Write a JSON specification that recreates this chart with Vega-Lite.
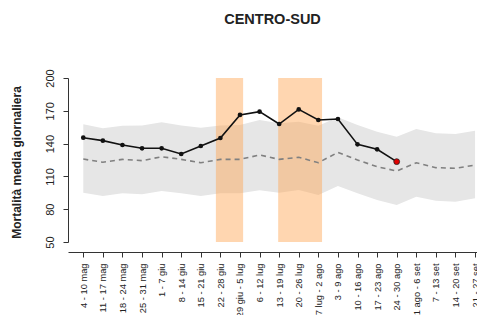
{
  "$schema": "https://vega.github.io/schema/vega-lite/v6.json",
  "autosize": {"type": "none"},
  "width": 409,
  "height": 164,
  "padding": {"left": 68, "top": 78, "right": 0, "bottom": 73},
  "background": "white",
  "config": {
    "view": {"stroke": null},
    "font": "Liberation Sans",
    "axis": {"grid": false, "labelOverlap": false, "domainColor": "#333", "tickColor": "#333", "labelColor": "#222", "labelFont": "Liberation Sans", "titleFont": "Liberation Sans"}
  },
  "title": {"text": "CENTRO-SUD", "fontSize": 14.5, "fontWeight": "bold", "color": "#222", "offset": 41, "anchor": "middle", "frame": "group"},
  "datasets": {
    "weeks": [
      {"i": 0, "week": "4 - 10 mag", "obs": 145.4, "exp": 125.9, "lo": 95.1, "hi": 157.6},
      {"i": 1, "week": "11 - 17 mag", "obs": 142.7, "exp": 122.9, "lo": 92.1, "hi": 154.0},
      {"i": 2, "week": "18 - 24 mag", "obs": 138.7, "exp": 125.6, "lo": 94.5, "hi": 156.4},
      {"i": 3, "week": "25 - 31 mag", "obs": 135.7, "exp": 124.4, "lo": 93.6, "hi": 156.5},
      {"i": 4, "week": "1 - 7 giu", "obs": 135.7, "exp": 128.0, "lo": 96.6, "hi": 159.5},
      {"i": 5, "week": "8 - 14 giu", "obs": 130.5, "exp": 125.6, "lo": 94.5, "hi": 156.6},
      {"i": 6, "week": "15 - 21 giu", "obs": 137.8, "exp": 122.5, "lo": 92.1, "hi": 154.6},
      {"i": 7, "week": "22 - 28 giu", "obs": 145.1, "exp": 125.6, "lo": 94.5, "hi": 156.6},
      {"i": 8, "week": "29 giu - 5 lug", "obs": 166.2, "exp": 125.6, "lo": 94.5, "hi": 157.0},
      {"i": 9, "week": "6 - 12 lug", "obs": 169.2, "exp": 129.6, "lo": 97.3, "hi": 161.6},
      {"i": 10, "week": "13 - 19 lug", "obs": 157.9, "exp": 125.6, "lo": 95.1, "hi": 158.5},
      {"i": 11, "week": "20 - 26 lug", "obs": 171.3, "exp": 127.5, "lo": 97.6, "hi": 160.0},
      {"i": 12, "week": "27 lug - 2 ago", "obs": 161.6, "exp": 122.5, "lo": 93.0, "hi": 156.4},
      {"i": 13, "week": "3 - 9 ago", "obs": 162.5, "exp": 132.0, "lo": 101.2, "hi": 164.0},
      {"i": 14, "week": "10 - 16 ago", "obs": 139.3, "exp": 125.0, "lo": 94.5, "hi": 157.0},
      {"i": 15, "week": "17 - 23 ago", "obs": 134.8, "exp": 118.9, "lo": 88.4, "hi": 150.9},
      {"i": 16, "week": "24 - 30 ago", "obs": 123.5, "exp": 114.9, "lo": 83.8, "hi": 146.3},
      {"i": 17, "week": "31 ago - 6 set", "obs": null, "exp": 122.5, "lo": 91.4, "hi": 153.4},
      {"i": 18, "week": "7 - 13 set", "obs": null, "exp": 118.0, "lo": 87.8, "hi": 149.4},
      {"i": 19, "week": "14 - 20 set", "obs": null, "exp": 117.4, "lo": 86.9, "hi": 148.8},
      {"i": 20, "week": "21 - 27 set", "obs": null, "exp": 120.4, "lo": 90.0, "hi": 151.8}
    ],
    "waves": [
      {"start": 6.77, "end": 8.16},
      {"start": 9.95, "end": 12.19}
    ]
  },
  "layer": [
    {
      "data": {"name": "weeks"},
      "mark": {"type": "area", "color": "#e6e6e6", "clip": true},
      "encoding": {
        "x": {
          "field": "i", "type": "quantitative",
          "scale": {"domain": [-0.78, 20.1], "nice": false, "zero": false},
          "axis": {
            "title": null, "values": [0,1,2,3,4,5,6,7,8,9,10,11,12,13,14,15,16,17,18,19,20], "tickCount": 21,
            "labelExpr": "['4 - 10 mag','11 - 17 mag','18 - 24 mag','25 - 31 mag','1 - 7 giu','8 - 14 giu','15 - 21 giu','22 - 28 giu','29 giu - 5 lug','6 - 12 lug','13 - 19 lug','20 - 26 lug','27 lug - 2 ago','3 - 9 ago','10 - 16 ago','17 - 23 ago','24 - 30 ago','31 ago - 6 set','7 - 13 set','14 - 20 set','21 - 27 set'][datum.value]",
            "labelAngle": -90, "labelAlign": "right", "labelBaseline": "middle",
            "labelFontSize": 9.3, "labelPadding": 6, "tickSize": 5, "offset": 10,
            "labelOverlap": false, "labelBound": false, "labelFlush": false
          }
        },
        "y": {
          "field": "lo", "type": "quantitative",
          "scale": {"domain": [50, 200], "nice": false, "zero": false},
          "axis": {
            "title": "Mortalità media giornaliera", "titleFontSize": 12, "titleFontWeight": "bold", "titleColor": "#222",
            "titleAngle": 270, "titleX": -52, "titleY": 84, "titleAlign": "center", "titleBaseline": "middle",
            "values": [50, 80, 110, 140, 170, 200], "tickCount": 6, "labelOverlap": false,
            "labelAngle": -90, "labelAlign": "center", "labelBaseline": "bottom",
            "labelFontSize": 11, "labelPadding": 8, "tickSize": 5, "labelFlush": false
          }
        },
        "y2": {"field": "hi"}
      }
    },
    {
      "data": {"name": "waves"},
      "mark": {"type": "rect", "color": "#ffa54f", "opacity": 0.45},
      "encoding": {
        "x": {"field": "start", "type": "quantitative"},
        "x2": {"field": "end"},
        "y": {"datum": 50},
        "y2": {"datum": 200}
      }
    },
    {
      "data": {"name": "weeks"},
      "mark": {"type": "line", "color": "#808080", "strokeWidth": 1.6, "strokeDash": [5, 4], "clip": true},
      "encoding": {
        "x": {"field": "i", "type": "quantitative"},
        "y": {"field": "exp", "type": "quantitative"}
      }
    },
    {
      "data": {"name": "weeks"},
      "transform": [{"filter": "datum.obs != null"}],
      "mark": {"type": "line", "color": "#111", "strokeWidth": 1.6, "point": {"filled": true, "size": 22, "color": "#111"}},
      "encoding": {
        "x": {"field": "i", "type": "quantitative"},
        "y": {"field": "obs", "type": "quantitative"}
      }
    },
    {
      "data": {"name": "weeks"},
      "transform": [{"filter": "datum.i == 16"}],
      "mark": {"type": "point", "filled": true, "size": 34, "fill": "#e00000", "stroke": "#222", "strokeWidth": 0.8, "opacity": 1},
      "encoding": {
        "x": {"field": "i", "type": "quantitative"},
        "y": {"field": "obs", "type": "quantitative"}
      }
    }
  ]
}
